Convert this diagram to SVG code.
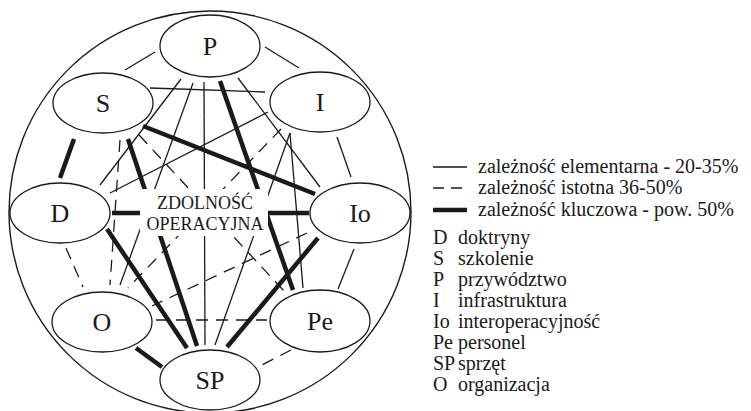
<svg xmlns="http://www.w3.org/2000/svg" width="751" height="411" viewBox="0 0 751 411">
<style>
.bg{fill:#fff}
.thin{stroke:#1a1a1a;stroke-width:1.3;fill:none}
.dash{stroke:#1a1a1a;stroke-width:1.3;fill:none;stroke-dasharray:12 8}
.thick{stroke:#1a1a1a;stroke-width:4.5;fill:none}
.node{fill:#fff;stroke:#1a1a1a;stroke-width:1.3}
.lbl{font-family:"Liberation Serif","Times New Roman",serif;font-size:26px;fill:#1a1a1a;text-anchor:middle}
.ctr{font-family:"Liberation Serif","Times New Roman",serif;font-size:18px;fill:#1a1a1a;text-anchor:middle}
.leg{font-family:"Liberation Serif","Times New Roman",serif;font-size:20px;fill:#1a1a1a}
</style>
<rect class="bg" x="0" y="0" width="751" height="411"/>
<circle cx="210" cy="212" r="201" fill="none" stroke="#1a1a1a" stroke-width="1.4"/>
<g id="connectors">
<line class="thin" x1="125" y1="70" x2="155" y2="52"/>
<line class="thin" x1="265" y1="47" x2="299" y2="68"/>
<line class="thin" x1="337" y1="137" x2="351" y2="177"/>
<line class="thin" x1="354" y1="249" x2="338" y2="289"/>
<line class="thin" x1="150" y1="88" x2="265" y2="92"/>
<line class="thin" x1="181" y1="79" x2="100" y2="185"/>
<line class="thin" x1="193" y1="83" x2="120" y2="285"/>
<line class="thin" x1="204" y1="82" x2="205" y2="345"/>
<line class="thin" x1="110" y1="193" x2="268" y2="112"/>
<line class="thin" x1="238" y1="78" x2="320" y2="187"/>
<line class="thin" x1="290" y1="133" x2="215" y2="345"/>
<line class="thin" x1="290" y1="133" x2="303" y2="288"/>
<line class="dash" x1="66" y1="248" x2="83" y2="287"/>
<line class="dash" x1="291" y1="350" x2="258" y2="367"/>
<line class="dash" x1="120" y1="140" x2="110" y2="285"/>
<line class="dash" x1="139" y1="135" x2="284" y2="291"/>
<line class="dash" x1="281" y1="129" x2="128" y2="288"/>
<line class="dash" x1="307" y1="233" x2="152" y2="306"/>
<line class="dash" x1="156" y1="320" x2="267" y2="320"/>
<line class="thick" x1="74" y1="139" x2="60" y2="178"/>
<line class="thick" x1="136" y1="348" x2="162" y2="367"/>
<line class="thick" x1="143" y1="126" x2="315" y2="194"/>
<line class="thick" x1="128" y1="139" x2="197" y2="346"/>
<line class="thick" x1="107" y1="229" x2="187" y2="348"/>
<line class="thick" x1="220" y1="81" x2="293" y2="290"/>
<line class="thick" x1="318" y1="238" x2="227" y2="347"/>
<line class="thick" x1="112" y1="213" x2="309" y2="213"/>
</g>
<g id="center">
<rect class="bg" x="140" y="189" width="128" height="47"/>
<text class="ctr" x="205" y="209">ZDOLNOŚĆ</text>
<text class="ctr" x="205" y="230">OPERACYJNA</text>
</g>
<g id="node-P"><ellipse class="node" cx="210" cy="46" rx="50" ry="31"/><text class="lbl" x="210" y="55">P</text></g>
<g id="node-S"><ellipse class="node" cx="103" cy="103" rx="50" ry="30"/><text class="lbl" x="103" y="112">S</text></g>
<g id="node-I"><ellipse class="node" cx="320" cy="102" rx="50" ry="30"/><text class="lbl" x="320" y="111">I</text></g>
<g id="node-D"><ellipse class="node" cx="60" cy="213" rx="50" ry="30"/><text class="lbl" x="60" y="222">D</text></g>
<g id="node-Io"><ellipse class="node" cx="360" cy="213" rx="50" ry="30"/><text class="lbl" x="360" y="222">Io</text></g>
<g id="node-O"><ellipse class="node" cx="102" cy="322" rx="50" ry="30"/><text class="lbl" x="102" y="331">O</text></g>
<g id="node-Pe"><ellipse class="node" cx="320" cy="321" rx="50" ry="31"/><text class="lbl" x="320" y="330">Pe</text></g>
<g id="node-SP"><ellipse class="node" cx="210" cy="380" rx="50" ry="30"/><text class="lbl" x="210" y="389">SP</text></g>
<g id="legend">
<line class="thin" x1="433" y1="167" x2="467" y2="167"/>
<line class="dash" x1="433" y1="188" x2="467" y2="188" style="stroke-dasharray:11 7"/>
<line class="thick" x1="433" y1="210" x2="467" y2="210"/>
<text class="leg" x="478" y="173">zależność elementarna - 20-35%</text>
<text class="leg" x="478" y="194">zależność istotna 36-50%</text>
<text class="leg" x="478" y="216">zależność kluczowa - pow. 50%</text>
<text class="leg" x="433" y="244">D</text><text class="leg" x="458" y="244">doktryny</text>
<text class="leg" x="433" y="265">S</text><text class="leg" x="458" y="265">szkolenie</text>
<text class="leg" x="433" y="286">P</text><text class="leg" x="458" y="286">przywództwo</text>
<text class="leg" x="433" y="307">I</text><text class="leg" x="458" y="307">infrastruktura</text>
<text class="leg" x="433" y="328">Io</text><text class="leg" x="458" y="328">interoperacyjność</text>
<text class="leg" x="433" y="349">Pe</text><text class="leg" x="458" y="349">personel</text>
<text class="leg" x="433" y="370">SP</text><text class="leg" x="458" y="370">sprzęt</text>
<text class="leg" x="433" y="391">O</text><text class="leg" x="458" y="391">organizacja</text>
</g>
</svg>
